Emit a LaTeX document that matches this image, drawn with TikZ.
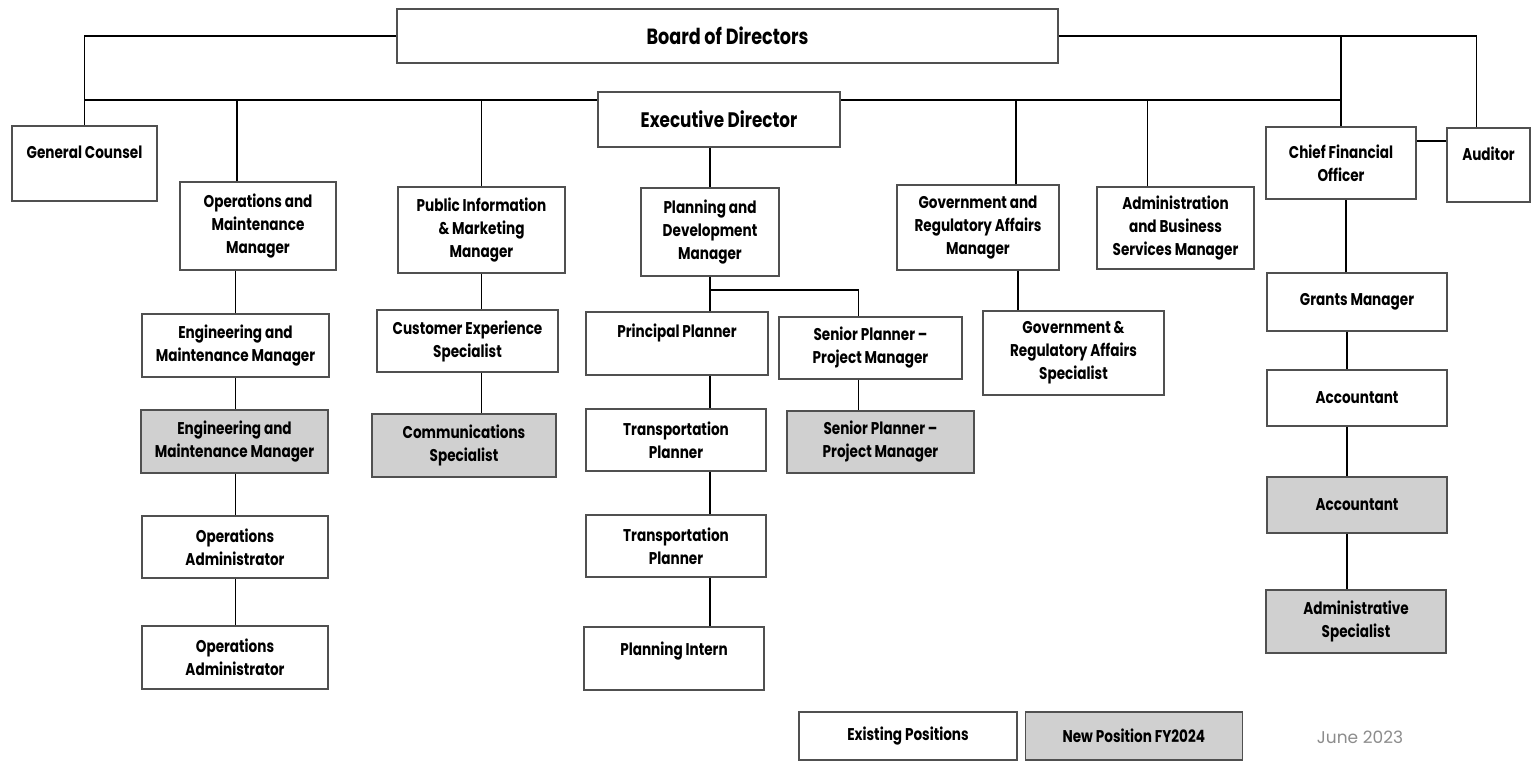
\documentclass[tikz,border=0pt]{standalone}
\usepackage{fontspec}
\usepackage{tikz}
\usetikzlibrary{positioning}
\newfontfamily\orgfont{Poppins}[FakeStretch=0.8,Ligatures=TeX]
\newfontfamily\datefont{Poppins}
\definecolor{newgray}{HTML}{D0D0D0}
\definecolor{boxline}{HTML}{505050}
\tikzset{%
  posbox/.style={rectangle,draw=boxline,fill=white,line width=1.3pt,inner sep=2pt,align=center,
    font=\orgfont\bfseries\fontsize{17}{23}\selectfont},
  newpos/.style={posbox,fill=newgray},
  size/.style 2 args={minimum width=#1,minimum height=#2},
  link/.style={draw=black,line width=1.8pt}
}

\begin{document}
\begin{tikzpicture}[x=1pt,y=-1pt]
  \useasboundingbox (0,0) rectangle (1533,762);
  \node[posbox,size={661}{54},font=\orgfont\bfseries\fontsize{22}{26}\selectfont](board) at (727.5,36){Board of Directors};
  \node[posbox,size={145}{75}](gc) at (84.5,163.5){General Counsel\\\mbox{}};
  \node[posbox,size={83}{74}](aud) at (1488.5,165){Auditor\\\mbox{}};
  \node[posbox,size={150}{72}](cfo) at (1341,163){Chief Financial\\Officer};
  \coordinate (busL) at (84.5,100);
  \draw[link] (board.west) -| (gc.north);
  \draw[link] (board.east) -| ([xshift=-12]aud.north);
  \draw[link] (cfo.north) -- (cfo.north |- board.east);
  \draw[link] (busL) -- (busL -| cfo.north);
  \draw[link] ([yshift=22]cfo.east) -- ([yshift=22]cfo.east -| aud.west);
  \node[posbox,size={242}{55},font=\orgfont\bfseries\fontsize{21}{25}\selectfont](exec) at (719,119.5){Executive Director};
  % operations
  \node[posbox,size={156}{88}](ops) at (258,226){Operations and\\Maintenance\\Manager};
  \node[posbox,size={187}{63}](eng1) at (235.5,345.5){Engineering and\\Maintenance Manager};
  \node[newpos,size={187}{63}](eng2) at (234.5,441.5){Engineering and\\Maintenance Manager};
  \node[posbox,size={186}{62}](opsadm1) at (235,547){Operations\\Administrator};
  \node[posbox,size={186}{63}](opsadm2) at (235,657.5){Operations\\Administrator};
  \draw[link] ([xshift=-21]ops.north) -- ([xshift=-21]ops.north |- busL);
  \draw[link] (eng1.north) -- (eng1.north |- ops.south);
  \draw[link] (eng1.south) -- (eng1.south |- eng2.north);
  \draw[link] (eng1.south |- eng2.south) -- (eng1.south |- opsadm1.north);
  \draw[link] (eng1.south |- opsadm1.south) -- (eng1.south |- opsadm2.north);
  % public information
  \node[posbox,size={167}{86}](pubinfo) at (481.5,230){Public Information\\\& Marketing\\Manager};
  \node[posbox,size={181}{62}](custexp) at (467.5,341){Customer Experience\\Specialist};
  \node[newpos,size={184}{63}](comms) at (464,445.5){Communications\\Specialist};
  \draw[link] (pubinfo.north) -- (pubinfo.north |- busL);
  \draw[link] (pubinfo.south) -- (pubinfo.south |- custexp.north);
  \draw[link] (pubinfo.south |- custexp.south) -- (pubinfo.south |- comms.north);
  % planning
  \node[posbox,size={138}{88}](plandev) at (710,232){Planning and\\Development\\Manager};
  \node[posbox,size={182}{63}](principal) at (677,343.5){Principal Planner\\[2pt]\mbox{}};
  \node[posbox,size={183}{62}](senior1) at (870.5,348){Senior Planner --\\Project Manager};
  \node[newpos,size={187}{62}](senior2) at (880.5,442){Senior Planner --\\Project Manager};
  \node[posbox,size={180}{62}](trans1) at (676,440){Transportation\\Planner};
  \node[posbox,size={180}{62}](trans2) at (676,546){Transportation\\Planner};
  \node[posbox,size={180}{63}](intern) at (674,658.5){Planning Intern\\[-4pt]\mbox{}};
  \draw[link] (exec.south -| plandev.north) -- (plandev.north);
  \draw[link] (plandev.south) -- (plandev.south |- principal.north);
  \draw[link] ([yshift=-13]plandev.south) -| ([xshift=-12]senior1.north);
  \draw[link] ([xshift=-12]senior1.south) -- ([xshift=-12]senior1.south |- senior2.north);
  \draw[link] (plandev.south |- principal.south) -- (plandev.south |- trans1.north);
  \draw[link] (plandev.south |- trans1.south) -- (plandev.south |- trans2.north);
  \draw[link] (plandev.south |- trans2.south) -- (plandev.south |- intern.north);
  % government and administration
  \node[posbox,size={162}{85}](govmgr) at (978,227.5){Government and\\Regulatory Affairs\\Manager};
  \node[posbox,size={181}{84}](govspec) at (1073.5,353){Government \&\\Regulatory Affairs\\Specialist};
  \node[posbox,size={157}{82}](admin) at (1175.5,228){Administration\\and Business\\Services Manager};
  \draw[link] ([xshift=38]govmgr.north) -- ([xshift=38]govmgr.north |- busL);
  \draw[link] ([xshift=40]govmgr.south) -- ([xshift=40]govmgr.south |- govspec.north);
  \draw[link] ([xshift=-28]admin.north) -- ([xshift=-28]admin.north |- busL);
  % finance
  \node[posbox,size={180}{58}](grants) at (1357,302){Grants Manager};
  \node[posbox,size={180}{56}](acct1) at (1357,398){Accountant};
  \node[newpos,size={180}{56}](acct2) at (1357,505){Accountant};
  \node[newpos,size={180}{63}](adminspec) at (1356,621.5){Administrative\\Specialist};
  \draw[link] ([xshift=-11]grants.north) -- ([xshift=-11]grants.north |- cfo.south);
  \draw[link] ([xshift=-10]grants.south) -- ([xshift=-10]grants.south |- acct1.north);
  \draw[link] ([xshift=-10]acct1.south) -- ([xshift=-10]acct1.south |- acct2.north);
  \draw[link] ([xshift=-10]acct2.south) -- ([xshift=-10]acct2.south |- adminspec.north);
  % legend
  \node[posbox,size={218}{48}](existing) at (908,736){Existing Positions};
  \node[newpos,size={217}{48},right=7pt of existing](newfy){New Position FY2024};
  \node[text=black!45,font=\datefont\fontsize{17}{19}\selectfont](date) at (1360,737){June 2023};
\end{tikzpicture}
\end{document}
